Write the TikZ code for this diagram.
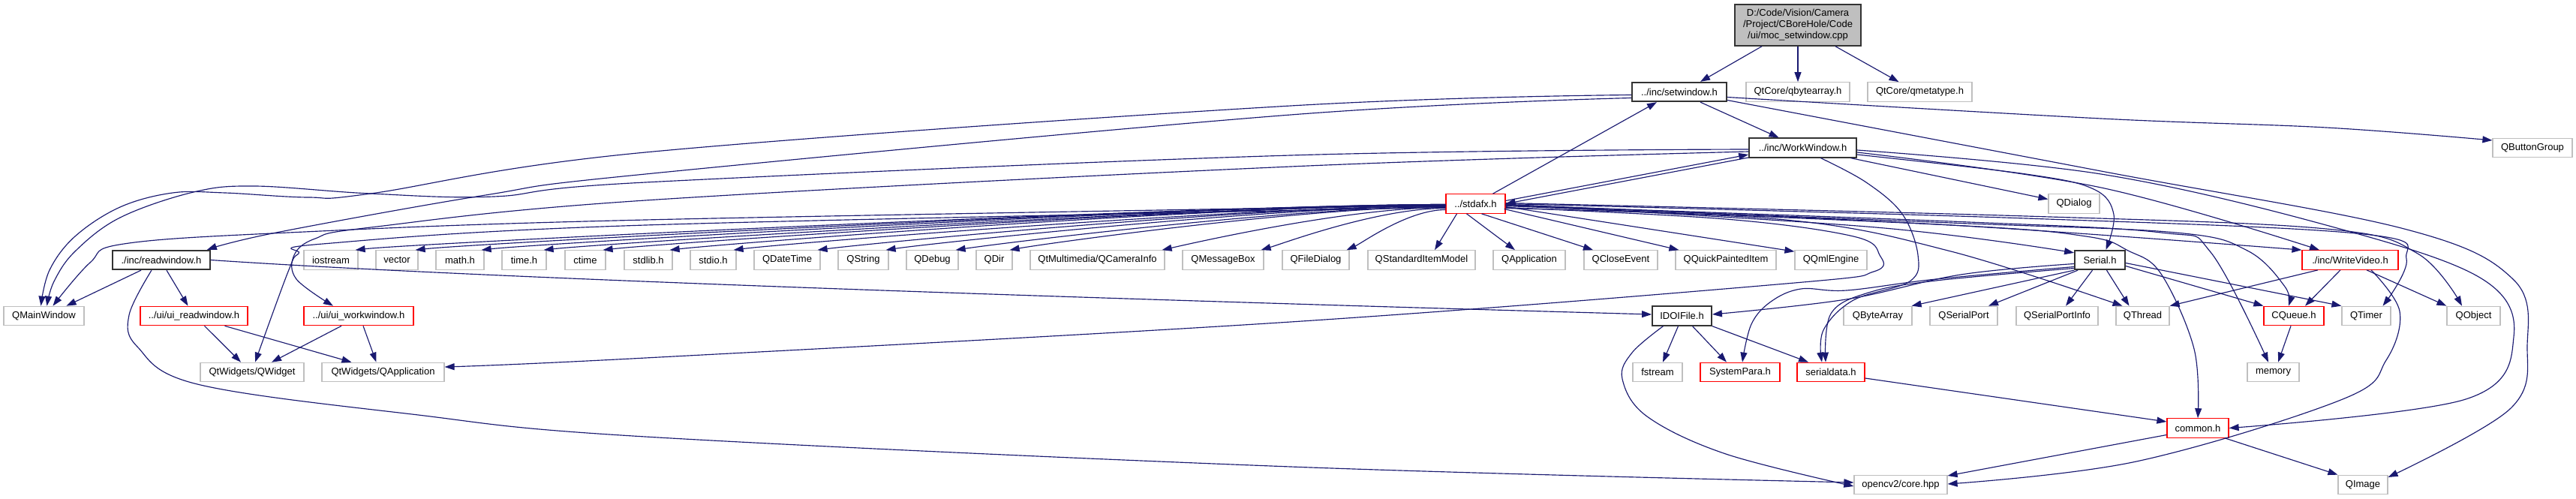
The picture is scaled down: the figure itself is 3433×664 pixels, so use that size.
\documentclass[tikz,border=0pt]{standalone}
\usepackage{fontspec}
\setmainfont{Liberation Sans}
\usetikzlibrary{arrows.meta}
\definecolor{edgec}{HTML}{191970}
\definecolor{grayb}{HTML}{BFBFBF}
\definecolor{redb}{HTML}{FF0000}
\tikzset{
  box/.style={rectangle, draw, minimum height=25.5pt, inner sep=0pt, font=\fontsize{13}{15}\selectfont, line width=1.2pt},
  ext/.style={box, draw=grayb},
  doc/.style={box, draw=black!80, line width=1.8pt},
  trunc/.style={box, draw=redb},
  edge/.style={draw=edgec, line width=1.15pt, -{Triangle[length=13pt,width=9pt]}},
  sm/.style={smooth, tension=0.6},
}
\begin{document}
\begin{tikzpicture}[x=1pt,y=-1pt]
\useasboundingbox (0,0) rectangle (3433,664);
% ---- nodes
\node[box, fill=grayb, draw=black!80, line width=1.5pt, minimum width=168, minimum height=55, align=center] (moc) at (2396,33.5) {D:/Code/Vision/Camera\\/Project/CBoreHole/Code\\/ui/moc\_setwindow.cpp};
\node[doc, minimum width=126] (setw) at (2238,122.5) {../inc/setwindow.h};
\node[ext, minimum width=138] (qba) at (2396,122.5) {QtCore/qbytearray.h};
\node[ext, minimum width=139] (qmt) at (2558.5,122.5) {QtCore/qmetatype.h};
\node[doc, minimum width=143] (ww) at (2402.5,197) {../inc/WorkWindow.h};
\node[ext, minimum width=106] (qbg) at (3375,197) {QButtonGroup};
\node[trunc, minimum width=79] (stdafx) at (1966.5,271.5) {../stdafx.h};
\node[ext, minimum width=68] (qdlg) at (2764,271.5) {QDialog};
% row 2
\node[doc, minimum width=130] (rw) at (215,346.5) {./inc/readwindow.h};
\node[ext, minimum width=72] (ios) at (441,346.5) {iostream};
\node[ext, minimum width=56] (vec) at (529,346.5) {vector};
\node[ext, minimum width=64] (mathh) at (613,346.5) {math.h};
\node[ext, minimum width=59] (timeh) at (698.5,346.5) {time.h};
\node[ext, minimum width=54] (ctime) at (780,346.5) {ctime};
\node[ext, minimum width=64] (stdlib) at (864,346.5) {stdlib.h};
\node[ext, minimum width=61] (stdio) at (950.5,346.5) {stdio.h};
\node[ext, minimum width=88] (qdt) at (1049,346.5) {QDateTime};
\node[ext, minimum width=67] (qstr) at (1150.5,346.5) {QString};
\node[ext, minimum width=69] (qdbg) at (1242.5,346.5) {QDebug};
\node[ext, minimum width=48] (qdir) at (1325,346.5) {QDir};
\node[ext, minimum width=179] (qcam) at (1462.5,346.5) {QtMultimedia/QCameraInfo};
\node[ext, minimum width=108] (qmsg) at (1630,346.5) {QMessageBox};
\node[ext, minimum width=89] (qfd) at (1753.5,346.5) {QFileDialog};
\node[ext, minimum width=143] (qsim) at (1894.5,346.5) {QStandardItemModel};
\node[ext, minimum width=96] (qapp) at (2038,346.5) {QApplication};
\node[ext, minimum width=98] (qce) at (2160,346.5) {QCloseEvent};
\node[ext, minimum width=134] (qqpi) at (2300,346.5) {QQuickPaintedItem};
\node[ext, minimum width=96] (qqml) at (2440,346.5) {QQmlEngine};
\node[doc, minimum width=67] (serial) at (2798.5,346.5) {Serial.h};
\node[trunc, minimum width=128] (wv) at (3132,346.5) {./inc/WriteVideo.h};
% row 3
\node[ext, minimum width=107] (qmw) at (58.5,421) {QMainWindow};
\node[trunc, minimum width=143] (uir) at (258.5,421) {../ui/ui\_readwindow.h};
\node[trunc, minimum width=146] (uiw) at (478,421) {../ui/ui\_workwindow.h};
\node[doc, minimum width=79] (idoi) at (2241.5,421) {IDOIFile.h};
\node[ext, minimum width=91] (qbyte) at (2502.5,421) {QByteArray};
\node[ext, minimum width=90] (qsp) at (2617,421) {QSerialPort};
\node[ext, minimum width=109] (qspi) at (2741.5,421) {QSerialPortInfo};
\node[ext, minimum width=71] (qthr) at (2855.5,421) {QThread};
\node[trunc, minimum width=80] (cq) at (3057,421) {CQueue.h};
\node[ext, minimum width=65] (qtim) at (3153.5,421) {QTimer};
\node[ext, minimum width=71] (qobj) at (3296.5,421) {QObject};
% row 4
\node[ext, minimum width=138] (qwid) at (336,496) {QtWidgets/QWidget};
\node[ext, minimum width=163] (qwapp) at (510.5,496) {QtWidgets/QApplication};
\node[ext, minimum width=66] (fstr) at (2209,496) {fstream};
\node[trunc, minimum width=106] (sysp) at (2319,496) {SystemPara.h};
\node[trunc, minimum width=90] (sdata) at (2440,496) {serialdata.h};
\node[ext, minimum width=69] (mem) at (3029.5,496) {memory};
% row 5/6
\node[trunc, minimum width=82] (common) at (2929,570.5) {common.h};
\node[ext, minimum width=124] (ocv) at (2533,646) {opencv2/core.hpp};
\node[ext, minimum width=66] (qimg) at (3149,646) {QImage};
% ---- edges
\draw[edge] ([xshift=-48]moc.south) -- ([xshift=28]setw.north);
\draw[edge] (moc) -- (qba);
\draw[edge] ([xshift=50]moc.south) -- ([xshift=-28]qmt.north);
\draw[edge] ([xshift=28]setw.south) -- ([xshift=-32]ww.north);
\draw[edge] ([xshift=23]stdafx.north) -- ([xshift=-30]setw.south);
\draw[edge] ([yshift=4]stdafx.east) -- ([yshift=-9]ww.west);
\draw[edge] ([yshift=-13]ww.west) -- (stdafx.east);
% to QMainWindow
\draw[edge] plot[sm] coordinates {([yshift=-4]setw.west) (1720,141) (860,203) (494,258) (411,263) (300,257) (230,257) (160,276) (100,315) (66,360) ([xshift=-4]qmw.north)};
\draw[edge] plot[sm] coordinates {([yshift=-2]ww.west) (1720,207) (860,243) (658,262) (494,258) (340,248) (258,256) (160,290) (100,335) (72,375) ([xshift=4]qmw.north)};
\draw[edge] plot[sm] coordinates {([yshift=-2]stdafx.west) (860,293) (384,310) (165,325) (120,350) ([xshift=12]qmw.north)};
\draw[edge] ([xshift=-27]rw.south) -- ([xshift=30]qmw.north);
% readwindow
\draw[edge] plot[sm] coordinates {([yshift=-8]setw.west) (1720,153) (860,232) (647,260) (368,310) ([xshift=-5]rw.north east)};
\draw[edge] ([xshift=7]rw.south) -- ([xshift=-8]uir.north);
\draw[edge] plot[sm] coordinates {([xshift=-13]rw.south) (172,420) (183,462) (263,512) (549,552) (860,582) (1720,622) ([yshift=3]ocv.west)};
\draw[edge] (rw.east) .. controls (700,375) and (1700,405) .. ([yshift=2]idoi.west);
\draw[edge] ([xshift=14]uir.south) -- ([xshift=-15]qwid.north);
\draw[edge] ([xshift=41]uir.south) -- ([xshift=-42]qwapp.north);
\draw[edge] ([xshift=-23]uiw.south) -- ([xshift=26]qwid.north);
\draw[edge] ([xshift=6]uiw.south) -- ([xshift=-9]qwapp.north);
\draw[edge] plot[sm] coordinates {([yshift=-5]ww.west) (1720,222) (860,267) (494,303) (420,318) (392,340) (395,372) ([xshift=-34]uiw.north)};
\draw[edge] plot[sm] coordinates {([yshift=-5]stdafx.west) (860,300) (430,325) (398,338) (384,362) ([xshift=4]qwid.north)};
% stdafx fan to row 2
\foreach \t/\s/\c/\e in {ios/-1/-300/80,vec/-1/-300/80,mathh/-1/-300/80,timeh/-2/-300/80,ctime/-2/-300/80,stdlib/-2/-300/80,stdio/-3/-250/70,qdt/-3/-250/70,qstr/-3/-220/60,qdbg/-4/-200/60,qdir/-4/-180/50,qcam/-5/-130/40,qmsg/-6/-90/30,qfd/-8/-50/20}
  \draw[edge] ([yshift=\s]stdafx.west) .. controls +(\c,0) and +(\e,-9) .. ([xshift=-4]\t.north east);
\draw[edge] ([xshift=-25]stdafx.south) -- ([xshift=17.5]qsim.north);
\draw[edge] ([xshift=-12]stdafx.south) -- ([xshift=-19]qapp.north);
\draw[edge] ([xshift=8]stdafx.south) -- ([xshift=-37]qce.north);
\draw[edge] ([xshift=-2,yshift=-7]stdafx.east) -- ([xshift=5]qqpi.north west);
\draw[edge] ([yshift=-4]stdafx.east) -- ([yshift=-2]qqml.north west);
% loop to QtWidgets/QApplication
\draw[edge] plot[sm] coordinates {([yshift=-5]stdafx.east) (2300,292) (2470,315) (2505,340) (2497,362) (2380,378) (1720,429) (860,477) ([yshift=7]qwapp.east)};
% stdafx to the right
\draw[edge] plot[sm] coordinates {([yshift=-1]stdafx.east) (2500,303) ([yshift=-4]serial.north west)};
\draw[edge] plot[sm] coordinates {([yshift=1]stdafx.east) (2700,288) (3100,305) (3222,338) ([xshift=-15.5]qobj.north)};
\draw[edge] plot[sm] coordinates {([yshift=0]stdafx.east) (2700,291) (3150,312) (3207,345) ([xshift=22]qtim.north)};
\draw[edge] plot[sm] coordinates {([yshift=-2]stdafx.east) (2600,295) (2880,310) (2946,336) ([xshift=-6.5]mem.north)};
\draw[edge] plot[sm] coordinates {([yshift=-2]stdafx.east) (2600,297) (2900,310) (2995,334) (3045,382) ([xshift=-7]cq.north)};
\draw[edge] plot[sm] coordinates {([yshift=-1]stdafx.east) (2600,300) (wv.north west)};
\draw[edge] plot[sm] coordinates {([yshift=-6]stdafx.east) (2380,293) (2600,335) ([xshift=-27]qthr.north)};
\draw[edge] plot[sm] coordinates {([yshift=-3]stdafx.east) (2600,300) (2780,315) (2836,334) (2880,365) (2924,465) (common.north)};
% WorkWindow to the right
\draw[edge] plot[sm] coordinates {([yshift=-9]ww.east) (2700,232) (2790,252) (2817,286) ([xshift=8]serial.north)};
\draw[edge] plot[sm] coordinates {([xshift=24]ww.south) (2487,243) (2535,285) (2556,340) (2545,375) (2470,400) (2430,440) ([xshift=-12]sdata.north)};
\draw[edge] ([xshift=64]ww.south) -- ([yshift=6]qdlg.west);
\draw[edge] plot[sm] coordinates {([yshift=-6]ww.east) (2800,250) ([xshift=-41]wv.north)};
\draw[edge] plot[sm] coordinates {([yshift=-3]ww.east) (2800,232) (3100,300) (3305,370) (3350,449) (3286,532) ([yshift=0]common.east)};
% setwindow to the right
\draw[edge] plot[sm] coordinates {([yshift=-7]setw.east) (2800,158) (3100,170) ([yshift=10]qbg.west)};
\draw[edge] plot[sm] coordinates {([yshift=-11]setw.east) (2800,228) (3204,305) (3349,372) (3368,460) (3345,545) ([yshift=10]qimg.east)};
% Serial
\draw[edge] plot[sm] coordinates {([yshift=-5]serial.west) (2613,366) (2460,399) ([yshift=2]idoi.east)};
\draw[edge] plot[sm] coordinates {([yshift=-9]serial.west) (2580,372) (2461,387) (2400,385) (2360,402) (2334,432) ([xshift=3]sysp.north)};
\draw[edge] plot[sm] coordinates {([yshift=-11]serial.west) (2580,374) (2490,390) (2440,418) ([xshift=-7]sdata.north)};
\draw[edge] (serial.south west) -- ([xshift=-1]qbyte.north east);
\draw[edge] ([xshift=5]serial.south west) -- ([xshift=33]qsp.north);
\draw[edge] ([xshift=-10]serial.south) -- ([xshift=11.5]qspi.north);
\draw[edge] ([xshift=9]serial.south) -- ([xshift=-18]qthr.north);
\draw[edge] ([yshift=-8]serial.east) -- (cq.north west);
\draw[edge] ([yshift=-4]serial.east) -- (qtim.north west);
% WriteVideo
\draw[edge] ([xshift=-43]wv.south) -- (qthr.north east);
\draw[edge] ([xshift=-13]wv.south) -- ([xshift=15]cq.north);
\draw[edge] ([xshift=22]wv.south) -- (qobj.north west);
\draw[edge] plot[sm] coordinates {([xshift=28]wv.south) (3198,415) (3180,480) (3122,532) (2847,615) ([yshift=1]ocv.east)};
% others
\draw[edge] ([xshift=-4]cq.south) -- ([xshift=6.5]mem.north);
\draw[edge] ([xshift=-5]idoi.south) -- ([xshift=7]fstr.north);
\draw[edge] ([xshift=14]idoi.south) -- ([xshift=-18]sysp.north);
\draw[edge] (idoi.south east) -- ([xshift=-30]sdata.north);
\draw[edge] plot[sm] coordinates {([xshift=-25]idoi.south) (2175,470) (2162,505) (2195,555) (2300,605) ([yshift=-2]ocv.west)};
\draw[edge] ([yshift=-8]sdata.east) -- ([yshift=8.5]common.west);
\draw[edge] ([yshift=-9]common.west) -- ([yshift=12]ocv.east);
\draw[edge] ([xshift=36]common.south) -- (qimg.north west);
\end{tikzpicture}
\end{document}
